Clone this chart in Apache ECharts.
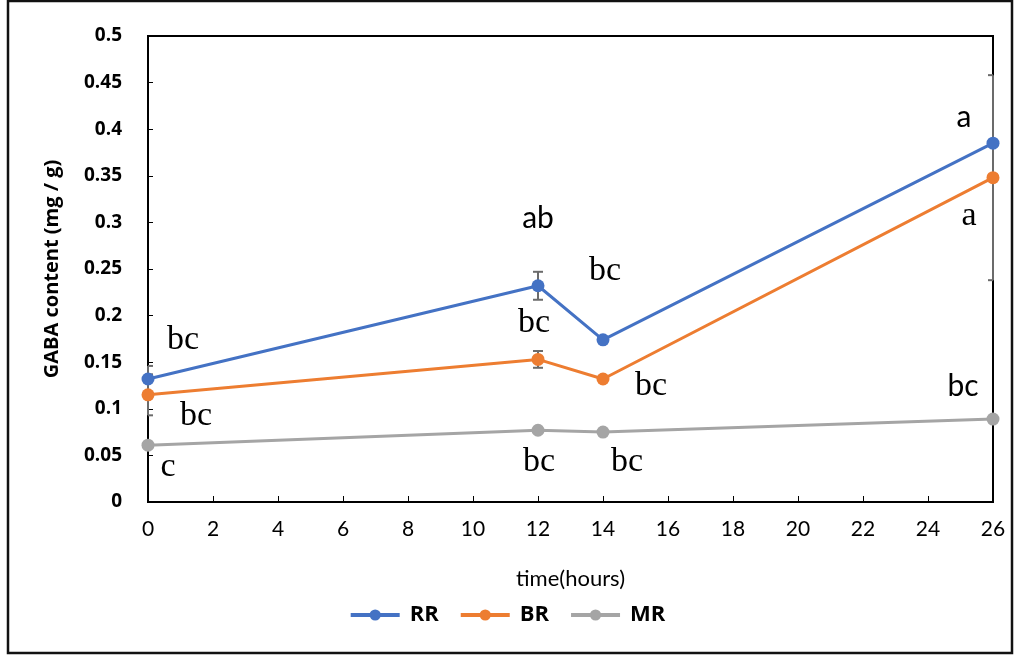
<!DOCTYPE html>
<html>
<head>
<meta charset="utf-8">
<script src="https://cdn.jsdelivr.net/npm/echarts@6/dist/echarts.min.js"></script>
<style>
  html, body { margin: 0; padding: 0; background: #fff; }
  #chart { width: 1014px; height: 655px; }
</style>
</head>
<body>
<div id="chart"></div>
<script>
// Sampling times (hours)
const hours = [0, 12, 14, 26];
const xTicks = [0, 2, 4, 6, 8, 10, 12, 14, 16, 18, 20, 22, 24, 26];

// GABA content (mg / g) per treatment
const seriesNames = ['RR', 'BR', 'MR'];
const rrValues = [0.132, 0.232, 0.174, 0.385];
const brValues = [0.115, 0.153, 0.132, 0.348];
const mrValues = [0.061, 0.077, 0.075, 0.089];

// Standard errors
const rrErrors = [0.014, 0.015, 0.0, 0.0];
const brErrors = [0.022, 0.009, 0.0, 0.11];
const mrErrors = [0.0, 0.0, 0.0, 0.0];

// Significance letters
const rrLetters = ['bc', 'ab', 'bc', 'a'];
const brLetters = ['bc', 'bc', 'bc', 'a'];
const mrLetters = ['c', 'bc', 'bc', 'bc'];

// Letter placement relative to each point (px) and font family
const SERIF = '"Liberation Serif", "DejaVu Serif", serif';
const SANS = 'Lato, "Open Sans", sans-serif';
const letterStyle = {
  RR: [[35, -39, SERIF], [0, -67, SANS], [2, -69, SERIF], [-29, -26, SANS]],
  BR: [[48, 21, SERIF], [-4, -36, SERIF], [48, 7, SERIF], [-24, 38, SERIF]],
  MR: [[20, 22, SERIF], [1, 32, SERIF], [24, 30, SERIF], [-30, -33, SANS]]
};

const colors = { RR: '#4472C4', BR: '#ED7D31', MR: '#A5A5A5' };
const values = { RR: rrValues, BR: brValues, MR: mrValues };
const errors = { RR: rrErrors, BR: brErrors, MR: mrErrors };
const letters = { RR: rrLetters, BR: brLetters, MR: mrLetters };

function lineSeries(name) {
  return {
    name: name,
    type: 'line',
    z: 3,
    data: hours.map((h, i) => {
      const st = letterStyle[name][i];
      return {
        value: [h, values[name][i]],
        label: {
          show: true,
          position: 'inside',
          offset: [st[0], st[1]],
          formatter: letters[name][i],
          fontFamily: st[2],
          fontSize: st[2] === SERIF ? 34 : 30,
          color: '#000'
        }
      };
    }),
    symbol: 'circle',
    symbolSize: 13,
    showSymbol: true,
    lineStyle: { color: colors[name], width: 3 },
    itemStyle: { color: colors[name] },
    emphasis: { disabled: true }
  };
}

// Vertical error bars; caps are trimmed to the plot area
function errorSeries(name) {
  const data = [];
  hours.forEach((h, i) => {
    if (errors[name][i] > 0) {
      data.push([h, values[name][i] - errors[name][i], values[name][i] + errors[name][i]]);
    }
  });
  return {
    type: 'custom',
    name: name + ' error',
    z: 2,
    data: data,
    renderItem: function (params, api) {
      const lo = api.coord([api.value(0), api.value(1)]);
      const hi = api.coord([api.value(0), api.value(2)]);
      const cs = params.coordSys;
      const half = 5;
      const x1 = Math.max(lo[0] - half, cs.x);
      const x2 = Math.min(lo[0] + half, cs.x + cs.width);
      const style = { stroke: '#6B6B6B', lineWidth: 2 };
      return {
        type: 'group',
        children: [
          { type: 'line', shape: { x1: lo[0], y1: lo[1], x2: hi[0], y2: hi[1] }, style: style },
          { type: 'line', shape: { x1: x1, y1: lo[1], x2: x2, y2: lo[1] }, style: style },
          { type: 'line', shape: { x1: x1, y1: hi[1], x2: x2, y2: hi[1] }, style: style }
        ]
      };
    }
  };
}

const chart = echarts.init(document.getElementById('chart'));
chart.setOption({
  animation: false,
  backgroundColor: '#fff',
  graphic: [{
    type: 'rect',
    shape: { x: 8, y: 1, width: 1004, height: 652 },
    style: { fill: 'none', stroke: '#111', lineWidth: 2.5 },
    silent: true
  }],
  grid: {
    left: 148, right: 21, top: 36, bottom: 153,
    show: true, borderColor: '#000', borderWidth: 2, backgroundColor: 'transparent'
  },
  legend: {
    data: seriesNames,
    top: 599,
    left: 'center',
    itemWidth: 49,
    itemHeight: 14,
    itemGap: 20,
    lineStyle: { width: 4 },
    textStyle: {
      fontFamily: '"Open Sans", Lato, sans-serif', fontWeight: 'bold', fontSize: 22, color: '#000',
      padding: [0, 0, 0, 5]
    }
  },
  xAxis: {
    type: 'value',
    min: 0, max: 26, interval: 2,
    name: 'time(hours)',
    nameLocation: 'middle',
    nameGap: 66,
    nameTextStyle: { fontFamily: 'Lato, "Open Sans", sans-serif', fontSize: 22, color: '#000' },
    axisLine: { show: true, lineStyle: { color: '#000', width: 2 } },
    axisTick: { show: true, inside: true, length: 6, lineStyle: { color: '#000', width: 1 } },
    axisLabel: {
      margin: 17,
      fontFamily: 'Lato, "Open Sans", sans-serif', fontSize: 21, color: '#000',
      formatter: v => xTicks.includes(v) ? String(v) : ''
    },
    splitLine: { show: false }
  },
  yAxis: {
    type: 'value',
    min: 0, max: 0.5, interval: 0.05,
    name: 'GABA content (mg / g)',
    nameLocation: 'middle',
    nameRotate: 90,
    nameGap: 86,
    nameTextStyle: { fontFamily: '"Open Sans", Lato, sans-serif', fontWeight: 'bold', fontSize: 20, color: '#000' },
    axisLine: { show: true, lineStyle: { color: '#000', width: 2 } },
    axisTick: { show: true, inside: true, length: 5, lineStyle: { color: '#000', width: 1 } },
    axisLabel: {
      margin: 26,
      fontFamily: '"Open Sans", Lato, sans-serif', fontWeight: 'bold', fontSize: 19, color: '#000',
      formatter: v => String(+v.toFixed(2))
    },
    splitLine: { show: false }
  },
  series: [
    errorSeries('RR'), errorSeries('BR'), errorSeries('MR'),
    lineSeries('RR'), lineSeries('BR'), lineSeries('MR')
  ]
});
</script>
</body>
</html>
